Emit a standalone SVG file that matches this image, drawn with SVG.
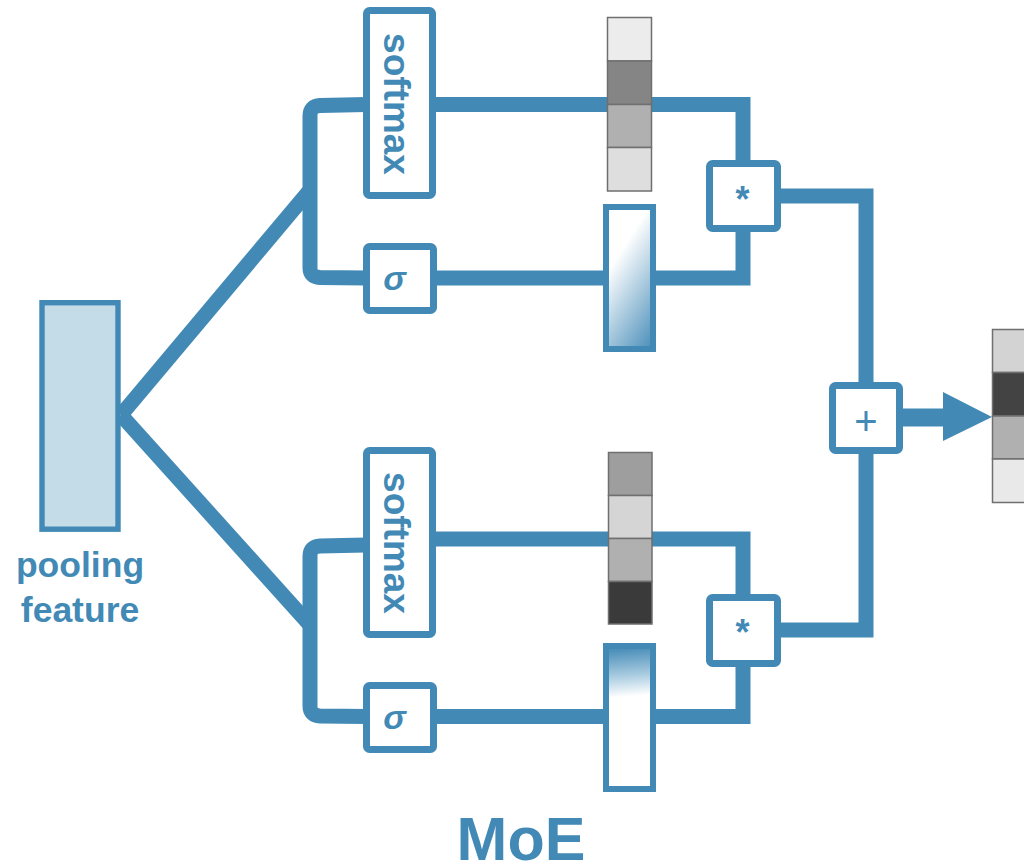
<svg xmlns="http://www.w3.org/2000/svg" width="1024" height="868" viewBox="0 0 1024 868">
  <style>
    .wire { fill: none; stroke: #428ab5; stroke-width: 15; stroke-linejoin: miter; }
    .op { fill: #ffffff; stroke: #428ab5; stroke-width: 7; }
    .lbl { fill: #428ab5; font-family: "Liberation Sans", Arial, sans-serif; font-weight: bold; }
    .sig { fill: #428ab5; font-family: "Liberation Sans", Arial, sans-serif; font-style: italic; font-weight: bold; }
    .cell { stroke: #6f6f6f; stroke-width: 1.5; }
    .gate { stroke: #428ab5; stroke-width: 6; }
  </style>
  <defs>
    <linearGradient id="gateUp" gradientUnits="userSpaceOnUse" x1="618" y1="255" x2="683" y2="297">
      <stop offset="0" stop-color="#ffffff"/>
      <stop offset="1" stop-color="#4e91bb"/>
    </linearGradient>
    <linearGradient id="gateDown" gradientUnits="userSpaceOnUse" x1="630" y1="649" x2="634" y2="696">
      <stop offset="0" stop-color="#4d90ba"/>
      <stop offset="0.55" stop-color="#a8cbe0"/>
      <stop offset="1" stop-color="#ffffff"/>
    </linearGradient>
  </defs>

  <!-- connectors -->
  <g id="connectors">
    <path class="wire" d="M121 415 L310 190"/>
    <path class="wire" d="M121 415 L310 625"/>
    <!-- upper expert bracket -->
    <path class="wire" d="M366 104.5 L320 105.5 Q310 106 310 116 L310 268 Q310 277 320 277.5 L366 278"/>
    <!-- lower expert bracket -->
    <path class="wire" d="M366 545 L320 546 Q310 546.5 310 556 L310 706 Q310 715.5 320 716 L366 716.5"/>
    <path class="wire" d="M436 104.5 H743 V163"/>
    <path class="wire" d="M437 278 H743 V229"/>
    <path class="wire" d="M436 539 H743 V597"/>
    <path class="wire" d="M437 716.5 H743 V664"/>
    <path class="wire" d="M778 196 H866 V385"/>
    <path class="wire" d="M778 630 H866 V451"/>
    <path fill="none" stroke="#428ab5" stroke-width="18" d="M899 417.5 H946"/>
    <polygon fill="#428ab5" points="943,392 992,417 943,441"/>
  </g>

  <!-- input feature -->
  <g id="pooling-feature">
    <rect x="42" y="302.7" width="76" height="226.5" fill="#c4dbe8" stroke="#428ab5" stroke-width="5.4"/>
    <text class="lbl" x="80" y="577" font-size="35.5" text-anchor="middle">pooling</text>
    <text class="lbl" x="80" y="622" font-size="35.5" text-anchor="middle">feature</text>
  </g>

  <!-- upper expert -->
  <g id="softmax-1">
    <rect class="op" x="366.5" y="10.5" width="66" height="185" rx="3"/>
    <text class="lbl" font-size="37" text-anchor="middle" transform="translate(384 104) rotate(90)">softmax</text>
  </g>
  <g id="sigma-1">
    <rect class="op" x="366.5" y="246.5" width="67" height="64" rx="3"/>
    <text class="sig" x="394.5" y="290" font-size="34" text-anchor="middle">σ</text>
  </g>
  <g id="weights-1">
    <rect class="cell" x="607.5" y="17.5" width="44" height="43.5" fill="#ececec"/>
    <rect class="cell" x="607.5" y="61" width="44" height="43.5" fill="#858585"/>
    <rect class="cell" x="607.5" y="104.5" width="44" height="43" fill="#b0b0b0"/>
    <rect class="cell" x="607.5" y="147.5" width="44" height="43.5" fill="#dedede"/>
  </g>
  <g id="gate-1">
    <rect class="gate" x="606" y="207" width="47" height="142" fill="url(#gateUp)"/>
  </g>
  <g id="mul-1">
    <rect class="op" x="709.5" y="163.5" width="68" height="65" rx="3"/>
    <text class="lbl" x="742.5" y="212" font-size="36" text-anchor="middle">*</text>
  </g>

  <!-- lower expert -->
  <g id="softmax-2">
    <rect class="op" x="366.5" y="450.5" width="66" height="184" rx="3"/>
    <text class="lbl" font-size="37" text-anchor="middle" transform="translate(384 543) rotate(90)">softmax</text>
  </g>
  <g id="sigma-2">
    <rect class="op" x="366.5" y="685.5" width="67" height="64" rx="3"/>
    <text class="sig" x="394.5" y="729" font-size="34" text-anchor="middle">σ</text>
  </g>
  <g id="weights-2">
    <rect class="cell" x="608.5" y="452.5" width="43.5" height="43" fill="#9e9e9e"/>
    <rect class="cell" x="608.5" y="495.5" width="43.5" height="43" fill="#d5d5d5"/>
    <rect class="cell" x="608.5" y="538.5" width="43.5" height="43" fill="#b0b0b0"/>
    <rect class="cell" x="608.5" y="581.5" width="43.5" height="42.5" fill="#3a3a3a"/>
  </g>
  <g id="gate-2">
    <rect class="gate" x="606" y="646" width="47" height="143" fill="url(#gateDown)"/>
  </g>
  <g id="mul-2">
    <rect class="op" x="709.5" y="597.5" width="68" height="66" rx="3"/>
    <text class="lbl" x="742.5" y="645" font-size="36" text-anchor="middle">*</text>
  </g>

  <!-- combination and output -->
  <g id="sum">
    <rect class="op" x="832.5" y="385.5" width="67" height="65" rx="3"/>
    <text x="866" y="435" font-size="40" text-anchor="middle" fill="#428ab5" font-family="'Liberation Sans', Arial, sans-serif">+</text>
  </g>
  <g id="output">
    <rect class="cell" x="992.5" y="329.5" width="44" height="43" fill="#d3d3d3"/>
    <rect class="cell" x="992.5" y="372.5" width="44" height="43.5" fill="#434343"/>
    <rect class="cell" x="992.5" y="416" width="44" height="43" fill="#b0b0b0"/>
    <rect class="cell" x="992.5" y="459" width="44" height="43.5" fill="#e9e9e9"/>
  </g>

  <g id="title">
    <text class="lbl" x="521" y="860" font-size="61" text-anchor="middle">MoE</text>
  </g>
</svg>
